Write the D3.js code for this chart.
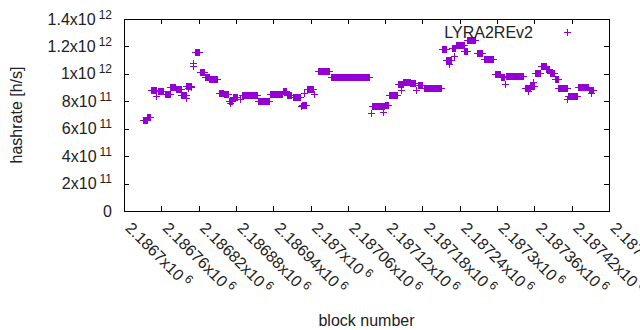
<!DOCTYPE html>
<html>
<head>
<meta charset="utf-8">
<script src="https://cdn.jsdelivr.net/npm/d3@7"></script>
<style>
  body { margin: 0; background: #fff; }
  svg { display: block; font-family: "Liberation Sans", Arial, sans-serif; }
</style>
</head>
<body>
<svg id="chart" width="640" height="330"></svg>
<script>
// runs of blocks sharing the same estimate: [first block, last block, hashrate]
const runs = [
    [2186731, 2186737, 6.58e11], [2186738, 2186743, 6.8e11],
    [2186745, 2186753, 8.82e11], [2186755, 2186763, 8.7e11],
    [2186766, 2186774, 8.47e11], [2186775, 2186783, 9.03e11],
    [2186784, 2186792, 8.86e11], [2186793, 2186800, 8.42e11],
    [2186801, 2186808, 9.06e11], [2186815, 2186822, 1.156e12],
    [2186823, 2186830, 1.012e12], [2186831, 2186837, 9.75e11],
    [2186838, 2186850, 9.6e11], [2186853, 2186860, 8.6e11],
    [2186861, 2186868, 8.5e11], [2186869, 2186874, 7.95e11],
    [2186876, 2186883, 8.25e11], [2186891, 2186914, 8.42e11],
    [2186916, 2186934, 7.98e11], [2186936, 2186955, 8.53e11],
    [2186956, 2186962, 8.68e11], [2186963, 2186970, 8.45e11],
    [2186973, 2186984, 8.24e11], [2186987, 2186993, 7.66e11],
    [2186995, 2187005, 8.86e11], [2187012, 2187030, 1.017e12],
    [2187033, 2187095, 9.73e11], [2187100, 2187119, 7.6e11],
    [2187120, 2187125, 7.7e11], [2187127, 2187140, 8.4e11],
    [2187141, 2187149, 9.2e11], [2187150, 2187160, 9.4e11],
    [2187161, 2187168, 9.3e11], [2187173, 2187180, 9.18e11],
    [2187184, 2187211, 8.93e11], [2187212, 2187218, 1.174e12],
    [2187219, 2187226, 1.1e12], [2187228, 2187233, 1.185e12],
    [2187234, 2187247, 1.205e12], [2187248, 2187252, 1.16e12],
    [2187253, 2187266, 1.24e12], [2187268, 2187277, 1.145e12],
    [2187279, 2187295, 1.105e12], [2187297, 2187306, 9.95e11],
    [2187307, 2187312, 9.7e11], [2187315, 2187343, 9.82e11],
    [2187346, 2187353, 8.93e11], [2187354, 2187360, 9.1e11],
    [2187362, 2187370, 1.0e12], [2187371, 2187379, 1.057e12],
    [2187380, 2187385, 1.035e12], [2187386, 2187393, 1.0e12],
    [2187394, 2187398, 9.6e11], [2187399, 2187413, 8.93e11],
    [2187415, 2187430, 8.35e11], [2187431, 2187447, 9.04e11],
    [2187448, 2187455, 8.8e11]
];

// isolated points: [block, hashrate]
const singles = [
    [2186753, 8.33e11], [2186800, 8.17e11], [2186803, 8.9e11],
    [2186809, 9.04e11], [2186811, 1.072e12], [2186812, 1.057e12],
    [2186872, 7.85e11], [2186887, 8.1e11], [2186985, 7.6e11],
    [2186991, 8.55e11], [2187007, 8.5e11], [2187098, 7.12e11],
    [2187117, 7.15e11], [2187147, 8.8e11], [2187171, 8.82e11],
    [2187224, 1.07e12], [2187232, 1.13e12], [2187313, 9.2e11],
    [2187350, 8.68e11], [2187358, 9.4e11], [2187414, 8.1e11],
    [2187452, 8.6e11]
];

const xTicks = [2186700, 2186760, 2186820, 2186880, 2186940, 2187000, 2187060,
    2187120, 2187180, 2187240, 2187300, 2187360, 2187420, 2187480];
const xTickLabels = ['2.1867x10^6', '2.18676x10^6', '2.18682x10^6', '2.18688x10^6',
    '2.18694x10^6', '2.187x10^6', '2.18706x10^6', '2.18712x10^6', '2.18718x10^6',
    '2.18724x10^6', '2.1873x10^6', '2.18736x10^6', '2.18742x10^6', '2.18748x10^6'];
const yTicks = [0, 2e11, 4e11, 6e11, 8e11, 1e12, 1.2e12, 1.4e12];
const yTickLabels = ['0', '2x10^11', '4x10^11', '6x10^11', '8x10^11', '1x10^12', '1.2x10^12', '1.4x10^12'];

const seriesName = 'LYRA2REv2';
const color = '#9400d3';

const margin = { top: 19, right: 31, bottom: 119, left: 124 },
    width = 640 - margin.left - margin.right,
    height = 330 - margin.top - margin.bottom;

const x = d3.scaleLinear().domain([2186700, 2187480]).range([margin.left, margin.left + width]);
const y = d3.scaleLinear().domain([0, 1.4e12]).range([margin.top + height, margin.top]);

const svg = d3.select('#chart');

// base text plus a raised exponent, gnuplot style
function supLabel(sel, label) {
    const [base, exp] = label.split('^');
    sel.text(base);
    if (exp) {
        sel.append('tspan').attr('dx', 3).attr('dy', -6).attr('font-size', 12).text(exp);
    }
}

const tickLen = 5;

const yAxis = svg.append('g')
    .attr('transform', `translate(${margin.left},0)`)
    .call(d3.axisLeft(y).tickValues(yTicks).tickSize(-tickLen).tickPadding(12).tickFormat(''));
yAxis.selectAll('text').each(function (d, i) { supLabel(d3.select(this), yTickLabels[i]); });

svg.append('g')
    .attr('transform', `translate(${margin.left + width},0)`)
    .call(d3.axisRight(y).tickValues(yTicks).tickSize(-tickLen).tickFormat(''));

const xAxis = svg.append('g')
    .attr('transform', `translate(0,${margin.top + height})`)
    .call(d3.axisBottom(x).tickValues(xTicks).tickSize(-tickLen).tickFormat(''));
xAxis.selectAll('text')
    .attr('y', 0).attr('dy', 0)
    .attr('text-anchor', 'start')
    .attr('transform', 'translate(0,18) rotate(45)')
    .each(function (d, i) { supLabel(d3.select(this), xTickLabels[i]); });

svg.append('g')
    .attr('transform', `translate(0,${margin.top})`)
    .call(d3.axisTop(x).tickValues(xTicks).tickSize(-tickLen).tickFormat(''));

svg.selectAll('.domain').remove();
svg.selectAll('.tick line').attr('stroke', '#000').attr('shape-rendering', 'crispEdges');
svg.selectAll('.tick text').attr('fill', '#222').attr('font-size', 16)
    .attr('font-family', '"Liberation Sans", Arial, sans-serif');

svg.append('rect')
    .attr('x', margin.left).attr('y', margin.top)
    .attr('width', width).attr('height', height)
    .attr('fill', 'none').attr('stroke', '#000')
    .attr('shape-rendering', 'crispEdges');

// one + marker per block
const points = runs.flatMap(([a, b, v]) => d3.range(a, b + 1).map(blk => [blk, v])).concat(singles);
const plus = (cx, cy, r) => `M${cx - r},${cy}H${cx + r}M${cx},${cy - r}V${cy + r}`;

svg.append('g')
    .attr('stroke', color)
    .attr('stroke-width', 1)
    .attr('fill', 'none')
    .attr('shape-rendering', 'crispEdges')
    .selectAll('path')
    .data(points)
    .join('path')
    .attr('d', d => plus(x(d[0]), y(d[1]), 3.5));

// legend
svg.append('text')
    .attr('x', 533).attr('y', 37.5)
    .attr('text-anchor', 'end')
    .attr('font-size', 16).attr('fill', '#222')
    .text(seriesName);
svg.append('path')
    .attr('d', plus(567.5, 32.5, 3.5))
    .attr('stroke', color).attr('fill', 'none')
    .attr('shape-rendering', 'crispEdges');

// axis titles
svg.append('text')
    .attr('x', margin.left + width / 2).attr('y', 326)
    .attr('text-anchor', 'middle')
    .attr('font-size', 16).attr('fill', '#222')
    .text('block number');
svg.append('text')
    .attr('transform', `translate(21.5,${margin.top + height / 2}) rotate(-90)`)
    .attr('text-anchor', 'middle')
    .attr('font-size', 16).attr('fill', '#222')
    .text('hashrate [h/s]');
</script>
</body>
</html>
